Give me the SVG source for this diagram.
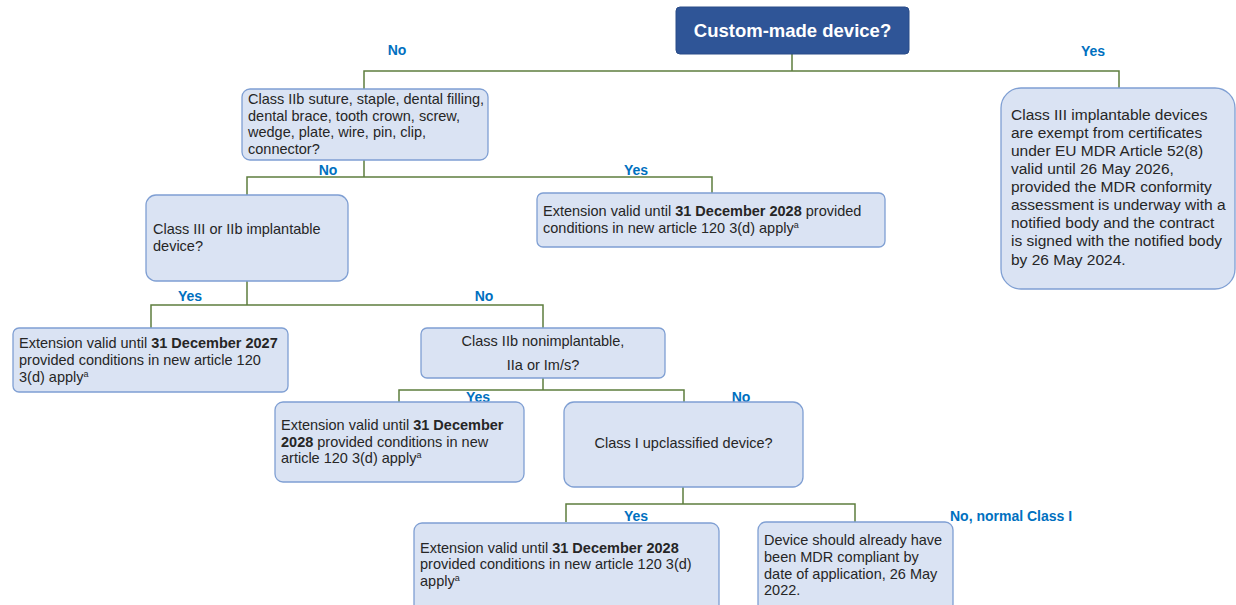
<svg xmlns="http://www.w3.org/2000/svg" width="1236" height="605" viewBox="0 0 1236 605">
<style>
.box{fill:#DAE3F3;stroke:#7F9FD3;stroke-width:1.3}
.top{fill:#2F5597;stroke:#2A4C88;stroke-width:1}
.t{font-family:"Liberation Sans",Arial,sans-serif;font-size:14.5px;fill:#262626}
.tr{font-family:"Liberation Sans",Arial,sans-serif;font-size:15.5px;fill:#262626}
.title{font-family:"Liberation Sans",Arial,sans-serif;font-size:18.5px;font-weight:bold;fill:#ffffff}
.lbl{font-family:"Liberation Sans",Arial,sans-serif;font-size:14px;font-weight:bold;fill:#0070C0}
.b{font-weight:bold}
.sup{font-size:9px}
.c{fill:none;stroke:#5E7E3E;stroke-width:1.5}
</style>
<rect width="1236" height="605" fill="#ffffff"/>
<g id="connectors">
<path class="c" d="M792,54 V71 M364,89 V71 H1119 V88"/>
<path class="c" d="M364,160 V177 M247,195 V177 H712 V193"/>
<path class="c" d="M247,281 V305 M151,328 V305 H543 V328"/>
<path class="c" d="M543,378 V390 M399,402 V390 H684 V402"/>
<path class="c" d="M683,487 V504 M566,522 V504 H855 V522"/>
<text class="lbl" x="397" y="55" text-anchor="middle">No</text>
<text class="lbl" x="1093" y="56" text-anchor="middle">Yes</text>
<text class="lbl" x="328" y="175" text-anchor="middle">No</text>
<text class="lbl" x="636" y="175" text-anchor="middle">Yes</text>
<text class="lbl" x="190" y="301" text-anchor="middle">Yes</text>
<text class="lbl" x="484" y="301" text-anchor="middle">No</text>
<text class="lbl" x="478" y="402" text-anchor="middle">Yes</text>
<text class="lbl" x="741" y="402" text-anchor="middle">No</text>
<text class="lbl" x="636" y="521" text-anchor="middle">Yes</text>
<text class="lbl" x="950" y="521">No, normal Class I</text>
</g>
<g id="custom-made">
<rect class="top" x="676" y="7" width="233" height="47" rx="4"/>
<text class="title" x="792.5" y="37" text-anchor="middle">Custom-made device?</text>
</g>
<g id="class-iib-suture">
<rect class="box" x="242" y="89" width="246" height="71" rx="8"/>
<text class="t" x="248" y="104">Class IIb suture, staple, dental filling,</text>
<text class="t" x="248" y="121">dental brace, tooth crown, screw,</text>
<text class="t" x="248" y="137">wedge, plate, wire, pin, clip,</text>
<text class="t" x="248" y="154">connector?</text>
</g>
<g id="class-iii-exempt">
<rect class="box" x="1001" y="88" width="234" height="201" rx="20"/>
<text class="tr" x="1011" y="120">Class III implantable devices</text>
<text class="tr" x="1011" y="138">are exempt from certificates</text>
<text class="tr" x="1011" y="156">under EU MDR Article 52(8)</text>
<text class="tr" x="1011" y="174">valid until 26 May 2026,</text>
<text class="tr" x="1011" y="192">provided the MDR conformity</text>
<text class="tr" x="1011" y="210">assessment is underway with a</text>
<text class="tr" x="1011" y="228">notified body and the contract</text>
<text class="tr" x="1011" y="246">is signed with the notified body</text>
<text class="tr" x="1011" y="265">by 26 May 2024.</text>
</g>
<g id="class-iii-iib-implantable">
<rect class="box" x="146" y="195" width="202" height="86" rx="10"/>
<text class="t" x="153" y="234">Class III or IIb implantable</text>
<text class="t" x="153" y="251">device?</text>
</g>
<g id="ext-2028-a">
<rect class="box" x="537" y="193" width="348" height="54" rx="6"/>
<text class="t" x="543" y="216">Extension valid until <tspan class="b">31 December 2028</tspan> provided</text>
<text class="t" x="543" y="233">conditions in new article 120 3(d) apply<tspan class="sup" dy="-5">a</tspan></text>
</g>
<g id="ext-2027">
<rect class="box" x="13" y="328" width="275" height="64" rx="6"/>
<text class="t" x="19" y="348">Extension valid until <tspan class="b">31 December 2027</tspan></text>
<text class="t" x="19" y="365">provided conditions in new article 120</text>
<text class="t" x="19" y="382">3(d) apply<tspan class="sup" dy="-5">a</tspan></text>
</g>
<g id="class-iib-nonimplantable">
<rect class="box" x="421" y="328" width="244" height="50" rx="6"/>
<text class="t" x="543" y="346" text-anchor="middle">Class IIb nonimplantable,</text>
<text class="t" x="543" y="370" text-anchor="middle">IIa or Im/s?</text>
</g>
<g id="ext-2028-b">
<rect class="box" x="275" y="402" width="249" height="80" rx="8"/>
<text class="t" x="281" y="430">Extension valid until <tspan class="b">31 December</tspan></text>
<text class="t" x="281" y="447"><tspan class="b">2028</tspan> provided conditions in new</text>
<text class="t" x="281" y="463">article 120 3(d) apply<tspan class="sup" dy="-5">a</tspan></text>
</g>
<g id="class-i-upclassified">
<rect class="box" x="564" y="402" width="239" height="85" rx="10"/>
<text class="t" x="683.5" y="448" text-anchor="middle">Class I upclassified device?</text>
</g>
<g id="ext-2028-c">
<rect class="box" x="414" y="523" width="305" height="90" rx="8"/>
<text class="t" x="420" y="553">Extension valid until <tspan class="b">31 December 2028</tspan></text>
<text class="t" x="420" y="569">provided conditions in new article 120 3(d)</text>
<text class="t" x="420" y="586">apply<tspan class="sup" dy="-5">a</tspan></text>
</g>
<g id="mdr-compliant">
<rect class="box" x="758" y="522" width="195" height="90" rx="8"/>
<text class="t" x="764" y="545">Device should already have</text>
<text class="t" x="764" y="562">been MDR compliant by</text>
<text class="t" x="764" y="579">date of application, 26 May</text>
<text class="t" x="764" y="595">2022.</text>
</g>
</svg>
